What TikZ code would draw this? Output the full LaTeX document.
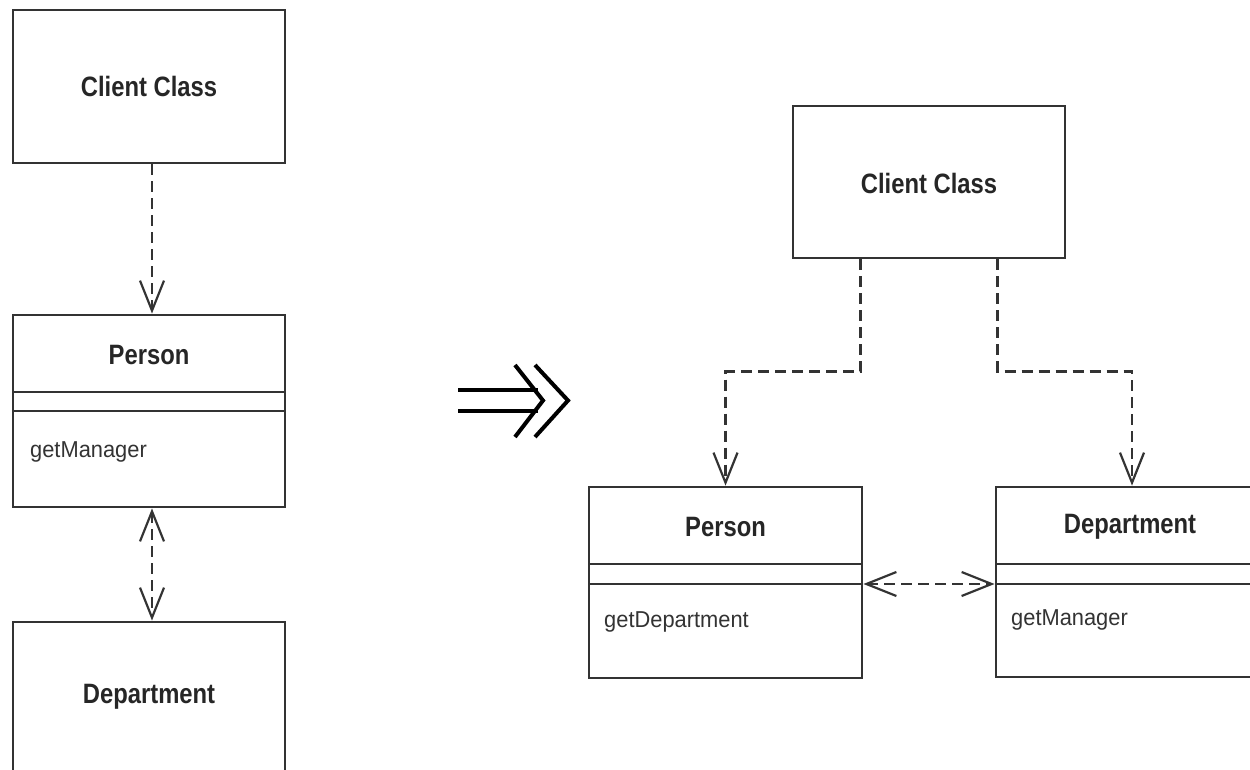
\documentclass[tikz,border=0pt]{standalone}
\usepackage{fontspec}
\usetikzlibrary{arrows.meta,calc}
\newfontfamily\hdfont[FakeStretch=0.85]{Liberation Sans}
\newfontfamily\mtfont[FakeStretch=0.95]{Liberation Sans}
\tikzset{
  cls/.style={draw=black!80, line width=2.8pt, rectangle, inner sep=0pt},
  cname/.style={font=\hdfont\bfseries\fontsize{28}{30}\selectfont, text=black!85, inner sep=0pt},
  meth/.style={font=\mtfont\fontsize{23}{26}\selectfont, text=black!80, inner sep=0pt, anchor=west},
  comp/.style={draw=black!80, line width=2.6pt},
  dep/.style={draw=black!80, line width=2.6pt, dash pattern=on 11pt off 6pt,
     -{Straight Barb[length=30pt,width=24pt,line width=2.2pt]}},
  bidep/.style={draw=black!80, line width=2.6pt, dash pattern=on 11pt off 6pt,
     {Straight Barb[length=30pt,width=24pt,line width=2.2pt]}-{Straight Barb[length=30pt,width=24pt,line width=2.2pt]}},
  impl/.style={draw=black, line width=4pt, line join=miter}
}
\begin{document}
\begin{tikzpicture}[x=1pt,y=-1pt]
\clip (0,0) rectangle (1250,770);
\fill[white] (0,0) rectangle (1250,770);
% ---------- left diagram ----------
\node[cls, minimum width=272pt, minimum height=153pt] (lcc) at (149,86.5) {};
\node[cname] (lcct) at (149,86) {Client Class};
\node[cls, minimum width=272pt, minimum height=192pt] (lp) at (149,411) {};
\node[cname] (lpt) at (149,355) {Person};
\draw[comp] (13,392) -- (285,392);
\draw[comp] (13,411) -- (285,411);
\node[meth] (lpm) at (30,452) {getManager};
\node[cls, minimum width=272pt, minimum height=160pt] (ld) at (149,702) {};
\node[cname] (ldt) at (149,697) {Department};
\draw[dep] ($(lcc.south)+(3,0)$) -- ($(lp.north)+(3,0)$);
\draw[bidep] ($(lp.south)+(3,0)$) -- ($(ld.north)+(3,0)$);
% ---------- implication arrow ----------
\draw[impl] (458,390) -- (538,390);
\draw[impl] (458,411) -- (538,411);
\draw[impl] (515,365) -- (543,400.5) -- (515,437);
\draw[impl] (535,365) -- (568,400.5) -- (535,437);
% ---------- right diagram ----------
\node[cls, minimum width=272pt, minimum height=152pt] (rcc) at (929,182) {};
\node[cname] (rcct) at (929,183) {Client Class};
\node[cls, minimum width=273pt, minimum height=191pt] (rp) at (725.5,582.5) {};
\node[cname] (rpt) at (725.5,527) {Person};
\draw[comp] (589,564) -- (862,564);
\draw[comp] (589,584) -- (862,584);
\node[meth] (rpm) at (604,622) {getDepartment};
\node[cls, minimum width=272pt, minimum height=190pt] (rd) at (1132,582) {};
\node[cname] (rdt) at (1130,527) {Department};
\draw[comp] (996,564) -- (1268,564);
\draw[comp] (996,584) -- (1268,584);
\node[meth] (rdm) at (1011,620) {getManager};
\coordinate (ra) at ($(rcc.south west)!0.25!(rcc.south east)$);
\coordinate (rb) at ($(rcc.south west)!0.75!(rcc.south east)$);
\draw[dep] (ra) |- ($(rp.north)+(0,-114)$) -- (rp.north);
\draw[dep] (rb) |- ($(rd.north)+(0,-114)$) -- (rd.north);
\draw[bidep] ($(rp.east)+(0,1.5)$) -- ($(rd.west)+(0,2)$);
\end{tikzpicture}
\end{document}
